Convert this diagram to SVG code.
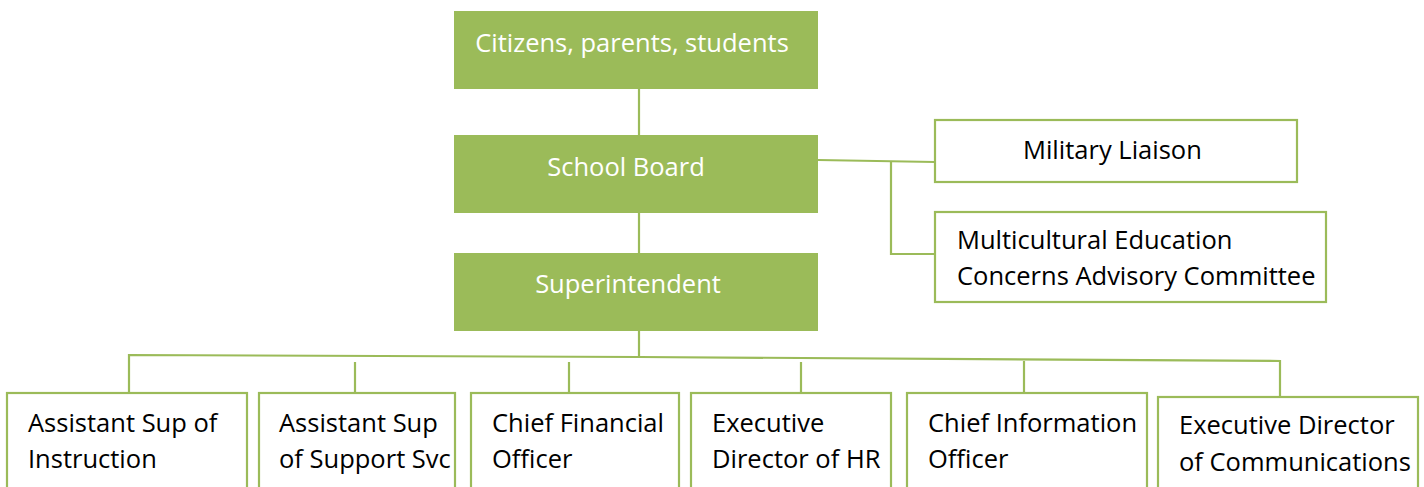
<svg xmlns="http://www.w3.org/2000/svg" width="1424" height="487" viewBox="0 0 1424 487">
<style>
.g{fill:#9BBB59;}
.w{fill:#FFFFFF;stroke:#9BBB59;stroke-width:2.2;}
.c{fill:none;stroke:#9BBB59;stroke-width:2.2;}
text{font-family:"Open Sans","Noto Sans","Liberation Sans",sans-serif;font-size:25.5px;}
.lt{fill:#FFFFFF;text-anchor:middle;}
.dk{fill:#000000;}
</style>
<rect width="1424" height="487" fill="#FFFFFF"/>
<g id="connectors">
<path class="c" d="M639,89 V135"/>
<path class="c" d="M639,213 V253"/>
<path class="c" d="M639,331 V357"/>
<path class="c" d="M818,160 L935,162"/>
<path class="c" d="M891,161 V254 H935"/>
<path class="c" d="M129,393 V355 L639,357 L1280,361 V397"/>
<path class="c" d="M355,362 V393"/>
<path class="c" d="M569,362 V393"/>
<path class="c" d="M801,362 V393"/>
<path class="c" d="M1024,361 V393"/>
</g>
<g id="citizens">
<rect class="g" x="454" y="11" width="364" height="78"/>
<text class="lt" x="632" y="52">Citizens, parents, students</text>
</g>
<g id="school-board">
<rect class="g" x="454" y="135" width="364" height="78"/>
<text class="lt" x="626" y="176">School Board</text>
</g>
<g id="superintendent">
<rect class="g" x="454" y="253" width="364" height="78"/>
<text class="lt" x="628" y="293">Superintendent</text>
</g>
<g id="military-liaison">
<rect class="w" x="935" y="120" width="362" height="62"/>
<text class="dk" x="1023" y="159">Military Liaison</text>
</g>
<g id="multicultural">
<rect class="w" x="935" y="212" width="391" height="90"/>
<text class="dk" x="957" y="249">Multicultural Education</text>
<text class="dk" x="957" y="285">Concerns Advisory Committee</text>
</g>
<g id="asst-instruction">
<rect class="w" x="7" y="393" width="240" height="110"/>
<text class="dk" x="28" y="432">Assistant Sup of</text>
<text class="dk" x="28" y="468">Instruction</text>
</g>
<g id="asst-support">
<rect class="w" x="259" y="393" width="196" height="110"/>
<text class="dk" x="279" y="432">Assistant Sup</text>
<text class="dk" x="279" y="468">of Support Svc</text>
</g>
<g id="cfo">
<rect class="w" x="471" y="393" width="208" height="110"/>
<text class="dk" x="492" y="432">Chief Financial</text>
<text class="dk" x="492" y="468">Officer</text>
</g>
<g id="exec-hr">
<rect class="w" x="691" y="393" width="200" height="110"/>
<text class="dk" x="712" y="432">Executive</text>
<text class="dk" x="712" y="468">Director of HR</text>
</g>
<g id="cio">
<rect class="w" x="907" y="393" width="240" height="110"/>
<text class="dk" x="928" y="432">Chief Information</text>
<text class="dk" x="928" y="468">Officer</text>
</g>
<g id="exec-comm">
<rect class="w" x="1158" y="397" width="260" height="110"/>
<text class="dk" x="1179" y="434">Executive Director</text>
<text class="dk" x="1179" y="471">of Communications</text>
</g>
</svg>
